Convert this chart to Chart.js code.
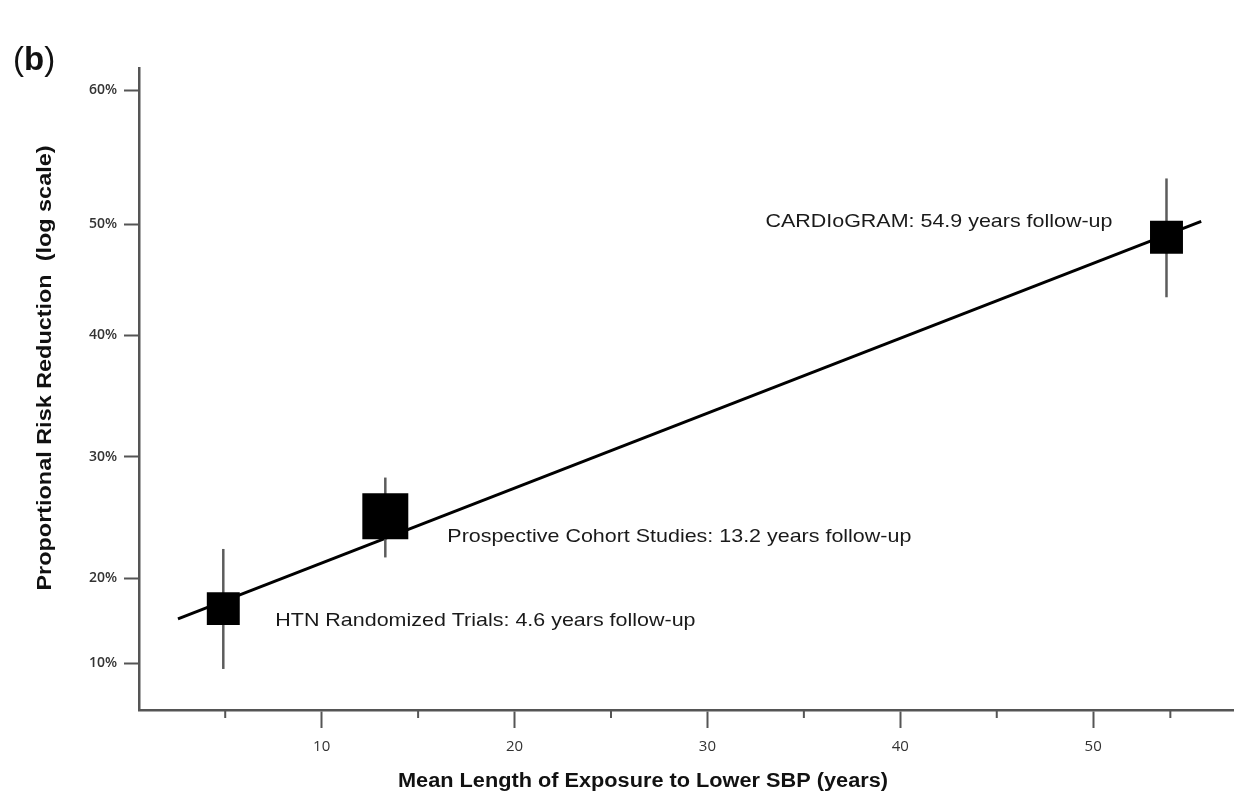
<!DOCTYPE html>
<html>
<head>
<meta charset="utf-8">
<script src="https://cdn.jsdelivr.net/npm/chart.js@4.4.1/dist/chart.umd.min.js"></script>
<style>
    html, body { margin: 0; padding: 0; background: #fff; }
    #wrap { width: 1234px; height: 798px; position: relative; }
</style>
</head>
<body>
<div id="wrap"><canvas id="myChart"></canvas></div>
<script>
// data
const studies = ["HTN Randomized Trials", "Prospective Cohort Studies", "CARDIoGRAM"];
const followUp = ["4.6", "13.2", "54.9"];
const exposureYears = [4.9, 13.3, 53.8];
const riskReduction = [16.4, 25.1, 48.8];
const ciLow = [9.3, 21.7, 43.4];
const ciHigh = [22.4, 28.3, 53.4];
const fitYears = [2.55, 55.6];
const fitReduction = [15.2, 50.2];
const xTicks = [10, 20, 30, 40, 50];
const xMinorTicks = [5, 15, 25, 35, 45, 54];
const yTicks = [10, 20, 30, 40, 50, 60];

// the printed y axis is not evenly spaced: value -> share of axis height
const yStops = [4.47, 10, 20, 30, 40, 50, 60, 61.64];
const yShare = [0, 0.0732, 0.2056, 0.3941, 0.5841, 0.757, 0.9657, 1];

function lerpTable(v, from, to) {
    let i = 1;
    while (i < from.length - 1 && v > from[i]) i++;
    const t = (v - from[i - 1]) / (from[i] - from[i - 1]);
    return to[i - 1] + t * (to[i] - to[i - 1]);
}

class WarpScale extends Chart.LinearScale {
    getPixelForValue(value) {
        return this.getPixelForDecimal(lerpTable(value, yStops, yShare));
    }
    getValueForPixel(pixel) {
        return lerpTable(this.getDecimalForPixel(pixel), yShare, yStops);
    }
}
WarpScale.id = "warp";
WarpScale.defaults = {};
Chart.register(WarpScale);

const axisGrey = "#555";

// text stretched to a given length (the figure's lettering is wide)
function stretchText(ctx, text, x, y, width, angle) {
    ctx.save();
    ctx.translate(x, y);
    ctx.rotate(angle || 0);
    const w = ctx.measureText(text).width;
    ctx.scale(width / w, 1);
    ctx.fillText(text, 0, 0);
    ctx.restore();
}

const extras = {
    id: "extras",
    afterDraw(chart) {
        const ctx = chart.ctx;
        const xs = chart.scales.x;
        const ys = chart.scales.y;
        ctx.save();

        // short minor ticks on the x axis
        ctx.strokeStyle = axisGrey;
        ctx.lineWidth = 2;
        xMinorTicks.forEach(v => {
            const px = xs.getPixelForValue(v);
            ctx.beginPath();
            ctx.moveTo(px, xs.top);
            ctx.lineTo(px, xs.top + 8);
            ctx.stroke();
        });

        // study labels beside the squares
        ctx.fillStyle = "#1a1a1a";
        ctx.textBaseline = "middle";
        ctx.font = '18.5px "Liberation Sans", Arial, sans-serif';
        const place = [[52, 12, 1], [62, 21, 1], [-54, -15, -1]];
        studies.forEach((name, i) => {
            const label = name + ": " + followUp[i] + " years follow-up";
            const px = xs.getPixelForValue(exposureYears[i]);
            const py = ys.getPixelForValue(riskReduction[i]);
            const w = ctx.measureText(label).width * 1.16;
            let x = px + place[i][0];
            if (place[i][2] < 0) x -= w;
            ctx.textAlign = "left";
            stretchText(ctx, label, x, py + place[i][1], w, 0);
        });

        // axis titles
        ctx.fillStyle = "#111";
        ctx.textAlign = "center";
        ctx.font = 'bold 20px "Liberation Sans", Arial, sans-serif';
        stretchText(ctx, "Mean Length of Exposure to Lower SBP (years)", 643, 781, 490, 0);
        stretchText(ctx, "Proportional Risk Reduction  (log scale)", 45, 368, 445, -Math.PI / 2);

        // panel letter
        ctx.textAlign = "left";
        ctx.textBaseline = "alphabetic";
        ctx.font = '33px "Liberation Sans", Arial, sans-serif';
        ctx.fillText("(", 13, 70);
        let x = 13 + ctx.measureText("(").width;
        ctx.font = 'bold 33px "Liberation Sans", Arial, sans-serif';
        ctx.fillText("b", x, 70);
        x += ctx.measureText("b").width;
        ctx.font = '33px "Liberation Sans", Arial, sans-serif';
        ctx.fillText(")", x, 70);

        ctx.restore();
    }
};

const errorBars = studies.map((s, i) => ({
    label: s + " CI",
    data: [{ x: exposureYears[i], y: ciLow[i] }, { x: exposureYears[i], y: ciHigh[i] }],
    showLine: true,
    borderColor: "#5c5c5c",
    borderWidth: 2.5,
    pointRadius: 0,
    order: 2
}));

const ctx = document.getElementById("myChart").getContext("2d");
const myChart = new Chart(ctx, {
    type: "scatter",
    data: {
        datasets: [
            {
                label: "Studies",
                data: exposureYears.map((x, i) => ({ x: x, y: riskReduction[i] })),
                pointStyle: "rect",
                pointRadius: [23.3, 32.5, 23.3],
                backgroundColor: "#000",
                borderWidth: 0,
                order: 0
            },
            {
                label: "Fit",
                data: fitYears.map((x, i) => ({ x: x, y: fitReduction[i] })),
                showLine: true,
                borderColor: "#000",
                borderWidth: 3,
                pointRadius: 0,
                order: 3
            },
            ...errorBars
        ]
    },
    options: {
        responsive: true,
        maintainAspectRatio: false,
        animation: false,
        layout: { autoPadding: false, padding: { top: 68, right: 0, left: 0, bottom: 0 } },
        plugins: {
            legend: { display: false },
            tooltip: { enabled: false }
        },
        scales: {
            x: {
                type: "linear",
                min: 0.53,
                max: 57.3,
                afterBuildTicks: scale => { scale.ticks = xTicks.map(v => ({ value: v })); },
                afterFit: scale => { scale.height = 88; },
                border: { display: true, color: axisGrey, width: 2.5 },
                grid: { display: true, drawOnChartArea: false, drawTicks: true, tickLength: 18, tickColor: axisGrey, tickWidth: 2 },
                ticks: {
                    color: "#333",
                    padding: 10,
                    maxRotation: 0,
                    font: { family: '"Open Sans", sans-serif', size: 15 }
                }
            },
            y: {
                type: "warp",
                min: 4.47,
                max: 61.64,
                afterBuildTicks: scale => { scale.ticks = yTicks.map(v => ({ value: v })); },
                afterFit: scale => { scale.width = 139; },
                border: { display: true, color: axisGrey, width: 2.5 },
                grid: { display: true, drawOnChartArea: false, drawTicks: true, tickLength: 15, tickColor: axisGrey, tickWidth: 2 },
                ticks: {
                    color: "#333",
                    padding: 7,
                    callback: v => v + "%",
                    font: { family: '"Open Sans", sans-serif', size: 14, weight: "600" }
                }
            }
        }
    },
    plugins: [extras]
});
</script>
</body>
</html>
